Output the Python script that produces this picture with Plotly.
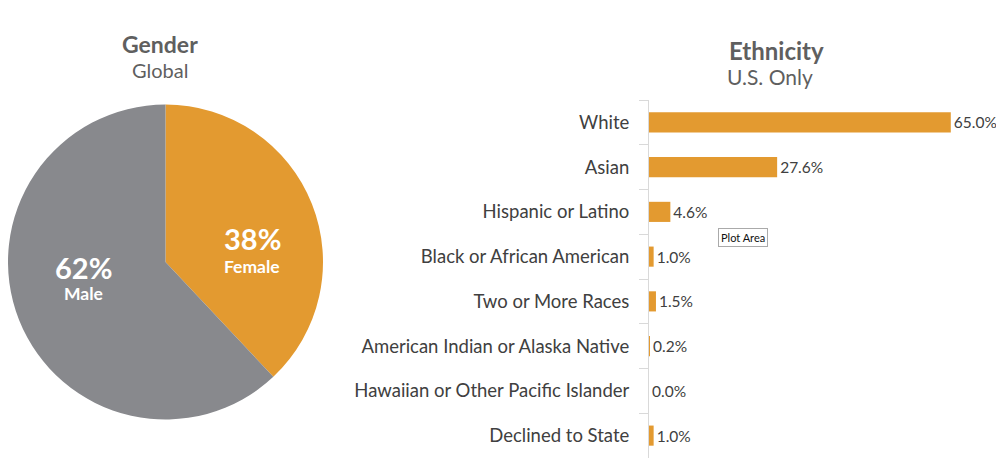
import plotly.graph_objects as go

# gender split (global)
gender_labels = ["Female", "Male"]
gender_values = [38, 62]

# ethnicity split (U.S. only), top to bottom
ethnicity_labels = [
    "White",
    "Asian",
    "Hispanic or Latino",
    "Black or African American",
    "Two or More Races",
    "American Indian or Alaska Native",
    "Hawaiian or Other Pacific Islander",
    "Declined to State",
]
ethnicity_values = [65.0, 27.6, 4.6, 1.0, 1.5, 0.2, 0.0, 1.0]

ORANGE = "#E39A30"
GREY = "#88898D"
TEXT = "#404040"
TITLE = "#5F5F5F"
FONT = "Lato"

# page body has an 8px margin, so the figure is a bit smaller than the window
OFF = 8
W, H = 1004 - 2 * OFF, 470 - 2 * OFF


def px(x):
    return (x - OFF) / W


def py(y):
    return 1 - (y - OFF) / H


fig = go.Figure()

fig.add_trace(go.Pie(
    labels=gender_labels, values=gender_values,
    marker=dict(colors=[ORANGE, GREY], line=dict(width=0)),
    sort=False, direction="clockwise", rotation=0,
    textinfo="none", hoverinfo="label+percent", showlegend=False,
    domain=dict(x=[px(8), px(323)], y=[py(422), py(102)]),
))

fig.add_trace(go.Bar(
    x=ethnicity_values, y=ethnicity_labels, orientation="h",
    marker=dict(color=ORANGE, line=dict(width=0)),
    text=[f"{v:.1f}%" for v in ethnicity_values], textposition="outside",
    textfont=dict(size=15.5, color=TEXT, family=FONT),
    cliponaxis=False, showlegend=False,
))

annotations = [
    dict(text="<b>Gender</b>", x=px(160), y=py(44), font=dict(size=23, color=TITLE)),
    dict(text="Global", x=px(160), y=py(70), font=dict(size=20, color=TITLE)),
    dict(text="<b>Ethnicity</b>", x=px(776), y=py(51), font=dict(size=24, color=TITLE)),
    dict(text="U.S. Only", x=px(770), y=py(77), font=dict(size=21, color=TITLE)),
]

# slice labels placed where the original chart put them
label_spots = {"Female": (252, 239, 266), "Male": (83, 267, 293)}
for lab, val in zip(gender_labels, gender_values):
    cx, y1, y2 = label_spots[lab]
    annotations.append(dict(text=f"<b>{val}%</b>", x=px(cx), y=py(y1),
                            font=dict(size=29, color="white")))
    annotations.append(dict(text=f"<b>{lab}</b>", x=px(cx), y=py(y2),
                            font=dict(size=17.5, color="white")))

annotations.append(dict(
    text="Plot Area", x=px(743), y=py(237), font=dict(size=11, color="#111111"),
    bordercolor="#AAAAAA", borderwidth=1, borderpad=2, bgcolor="white",
))

for a in annotations:
    a.update(xref="paper", yref="paper", showarrow=False,
             xanchor="center", yanchor="middle")

fig.update_layout(
    width=W, height=H,
    margin=dict(l=0, r=0, t=0, b=0),
    paper_bgcolor="white", plot_bgcolor="white",
    font=dict(family=FONT, color=TEXT),
    bargap=0.55,
    xaxis=dict(domain=[px(649), px(974)], range=[0, 70], visible=False),
    yaxis=dict(
        domain=[py(458), py(100)], autorange="reversed",
        showline=True, linecolor="#D9D9D9", linewidth=1,
        ticks="outside", tickson="boundaries", ticklen=9, tickcolor="#D9D9D9",
        ticklabelstandoff=15, tickfont=dict(size=18.5, color=TEXT, family=FONT),
        showgrid=False, zeroline=False,
    ),
    annotations=annotations,
)

fig.write_html("out.html")
